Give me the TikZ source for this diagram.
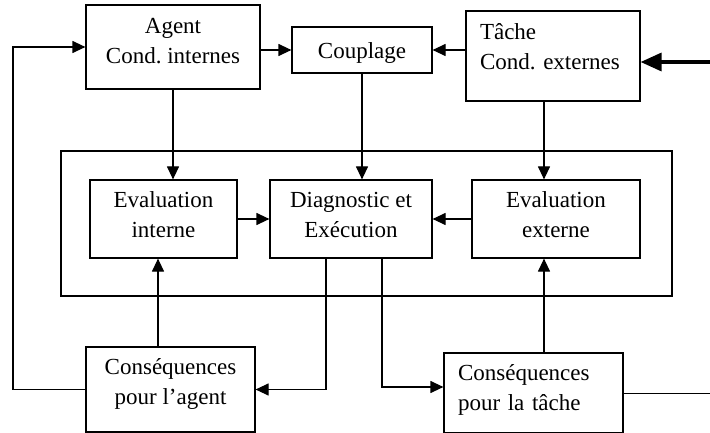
\documentclass[tikz,border=0pt]{standalone}
\usepackage{fontspec}
\setmainfont{Liberation Serif}
\usetikzlibrary{arrows.meta, positioning}
\frenchspacing

\begin{document}
\begin{tikzpicture}[
    x=1pt, y=-1pt,
    font=\fontsize{23}{30}\selectfont,
    block/.style={rectangle, draw, line width=1.2pt, inner sep=0pt, align=center},
    arrow/.style={-{Triangle[length=13pt, width=12pt]}, line width=1.2pt},
    bigarrow/.style={-{Triangle[length=21pt, width=18pt]}, line width=3.4pt},
    frame/.style={draw, line width=2.6pt}
]
    \useasboundingbox (0,0) rectangle (710,433);

    \node[block, minimum width=174pt, minimum height=84pt, text depth=12pt] (agent) at (173,47) {Agent\\Cond. internes};
    \node[block, minimum width=140pt, minimum height=46pt, text height=21pt] (coupl) at (362,50) {Couplage};
    \node[block, minimum width=174pt, minimum height=90pt, text width=146pt, align=left, text depth=49pt] (tache) at (553,56) {Tâche\\Cond. externes};

    \draw[frame] (61,151) rectangle (672,296);

    \node[block, minimum width=147pt, minimum height=78pt, text depth=8pt] (evi) at (163.5,219) {Evaluation\\interne};
    \node[block, minimum width=162pt, minimum height=78pt, text depth=8pt] (diag) at (351,219) {Diagnostic et\\Exécution};
    \node[block, minimum width=168pt, minimum height=78pt, text depth=8pt] (evx) at (556,219) {Evaluation\\externe};

    \node[block, minimum width=169pt, minimum height=85pt, text depth=15pt] (cona) at (170.5,389.5) {Conséquences\\pour l'agent};
    \node[block, minimum width=179pt, minimum height=80pt, text width=151pt, align=left, text depth=41pt] (cont) at (533.5,393) {Conséquences\\pour la tâche};

    \coordinate (src) at (710,62);
    \coordinate (loop) at (13,0);
    \coordinate (out) at (710,392);
    \coordinate (tlane) at ([xshift=-9pt]tache.south);

    % top row
    \draw[bigarrow] (src) -- (src -| tache.east);
    \draw[arrow] (agent.east |- coupl.west) -- (coupl.west);
    \draw[arrow] (tache.west |- coupl.east) -- (coupl.east);

    % down into the frame
    \draw[arrow] (agent.south) -- (agent.south |- evi.north);
    \draw[arrow] (coupl.south) -- (coupl.south |- diag.north);
    \draw[arrow] (tlane) -- (tlane |- evx.north);
    \draw[arrow] (evi) -- (diag);
    \draw[arrow] (evx) -- (diag);

    % consequences
    \draw[arrow] ([xshift=-25pt]diag.south) |- (cona.east);
    \draw[arrow] ([xshift=31pt]diag.south) |- ([yshift=6pt]cont.west);
    \draw[arrow] ([xshift=-12.5pt]cona.north) -- ([xshift=-12.5pt]cona.north |- evi.south);
    \draw[arrow] (cont.north -| tlane) -- (tlane |- evx.south);

    % feedback and output
    \draw[arrow] (cona.west) -- (cona.west -| loop) |- (agent.west);
    \draw (cont.east) -- (cont.east -| out);
\end{tikzpicture}
\end{document}
